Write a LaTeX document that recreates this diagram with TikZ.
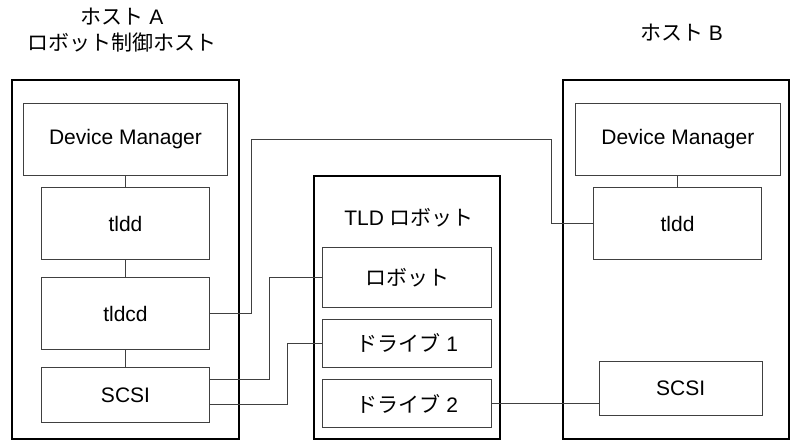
\documentclass[tikz,border=0pt]{standalone}
\usepackage{fontspec}
\setmainfont{Liberation Sans}
\newfontfamily\cjk{Noto Sans CJK JP}
\begin{document}
\begin{tikzpicture}[x=1pt,y=-1pt,
  host/.style={draw=black,line width=1.5pt,inner sep=0pt},
  comp/.style={draw=black!75,line width=0.9pt,inner sep=0pt,font=\fontsize{21}{25}\selectfont},
  link/.style={draw=black!75,line width=0.9pt},
  title/.style={font=\fontsize{21}{26}\selectfont,align=center,inner sep=0pt}]
\useasboundingbox (0,0) rectangle (791,440);
% host boxes
\node[host,minimum width=227pt,minimum height=359pt] (hostA) at (125.5,259.5) {};
\node[host,minimum width=186pt,minimum height=263pt] (tld) at (407,307.5) {};
\node[host,minimum width=226pt,minimum height=359pt] (hostB) at (676,259.5) {};
% titles
\node[title] (tA) at (122,30) {{\cjk ホスト} A\\{\cjk ロボット制御ホスト}};
\node[title] (tB) at (681.5,33) {{\cjk ホスト} B};
\node[title] (tT) at (409,218) {TLD {\cjk ロボット}};
% host A components
\node[comp,minimum width=204.4pt,minimum height=72.4pt] (dmA) at (125.5,139.5) {Device Manager};
\node[comp,minimum width=168.4pt,minimum height=72.4pt] (tlddA) at (125.5,223.5) {tldd};
\node[comp,minimum width=168.4pt,minimum height=72.4pt] (tldcd) at (125.5,313.5) {tldcd};
\node[comp,minimum width=168.4pt,minimum height=54.3pt] (scsiA) at (125.5,394.85) {SCSI};
% robot components
\node[comp,minimum width=169pt,minimum height=59.3pt] (robot) at (407.2,277.35) {\cjk ロボット};
\node[comp,minimum width=169pt,minimum height=48pt] (drive1) at (407.2,343.3) {{\cjk ドライブ} 1};
\node[comp,minimum width=169pt,minimum height=48.4pt] (drive2) at (407.2,403.5) {{\cjk ドライブ} 2};
% host B components
\node[comp,minimum width=204.3pt,minimum height=72pt] (dmB) at (677.85,139.3) {Device Manager};
\node[comp,minimum width=168.4pt,minimum height=72pt] (tlddB) at (677.5,223.7) {tldd};
\node[comp,minimum width=162.7pt,minimum height=54pt] (scsiB) at (680.65,388.7) {SCSI};
% vertical links
\draw[link] (dmA) -- (tlddA);
\draw[link] (tlddA) -- (tldcd);
\draw[link] (tldcd) -- (scsiA);
\draw[link] (dmB.south -| tlddB.north) -- (tlddB.north);
% cross links
\draw[link] (tldcd.east) -- (251.3,313.5) |- (551.7,139.7) |- (tlddB.west);
\draw[link] (scsiA.east |- 0,379.3) -- (269.7,379.3) |- (robot.west);
\draw[link] (scsiA.east |- 0,404) -- (287.7,404) |- (drive1.west);
\draw[link] (drive2.east) -- (drive2.east -| scsiB.west);
\end{tikzpicture}
\end{document}
